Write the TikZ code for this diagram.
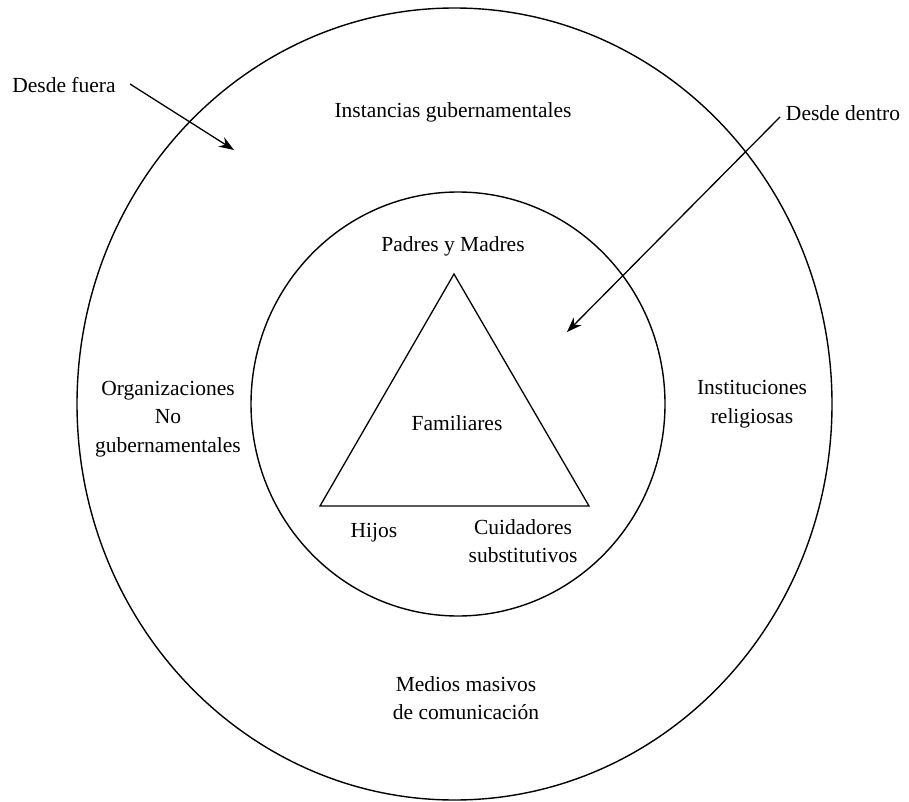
\documentclass[tikz,border=0pt]{standalone}
\usepackage{fontspec}
\setmainfont{Liberation Serif}
\usetikzlibrary{arrows.meta}
\begin{document}
\begin{tikzpicture}[x=1pt,y=-1pt,
  lbl/.style={font=\fontsize{21.5}{28.5}\selectfont, align=center, inner sep=0pt},
  ring/.style={line width=1.4pt},
  arr/.style={line width=1.3pt, -{Stealth[length=15pt,width=11pt]}}]
\useasboundingbox (0,0) rectangle (909,802);
\fill[white] (0,0) rectangle (909,802);
% rings
\draw[ring] (454.5,404) ellipse [x radius=377.5, y radius=396];
\draw[ring] (458,404) ellipse [x radius=207, y radius=212];
% triangle
\coordinate (ta) at (454,274);
\coordinate (tl) at (320,506);
\coordinate (tr) at (589,506);
\draw[line width=1.3pt, line join=miter] (ta) -- (tl) -- (tr) -- cycle;
% labels
\node[lbl] (df) at (64,85) {Desde fuera};
\node[lbl] (dd) at (843,113) {Desde dentro};
\node[lbl] (ig) at (453,112) {Instancias gubernamentales};
\node[lbl] (pm) at (453,246) {Padres y Madres};
\node[lbl] (fa) at (457,423) {Familiares};
\node[lbl] (hi) at (374,533) {Hijos};
\node[lbl] (cs) at (523,541) {Cuidadores\\substitutivos};
\node[lbl] (ong) at (168,419) {Organizaciones\\No\\gubernamentales};
\node[lbl] (ir) at (752,404) {Instituciones\\religiosas};
\node[lbl] (mm) at (466,698) {Medios masivos\\de comunicación};
% arrows
\coordinate (dfs) at (130,84);
\coordinate (dft) at (234,150);
\coordinate (dds) at (780,117);
\coordinate (ddt) at (567,332);
\draw[arr] (dfs) -- (dft);
\draw[arr] (dds) -- (ddt);
\end{tikzpicture}
\end{document}
